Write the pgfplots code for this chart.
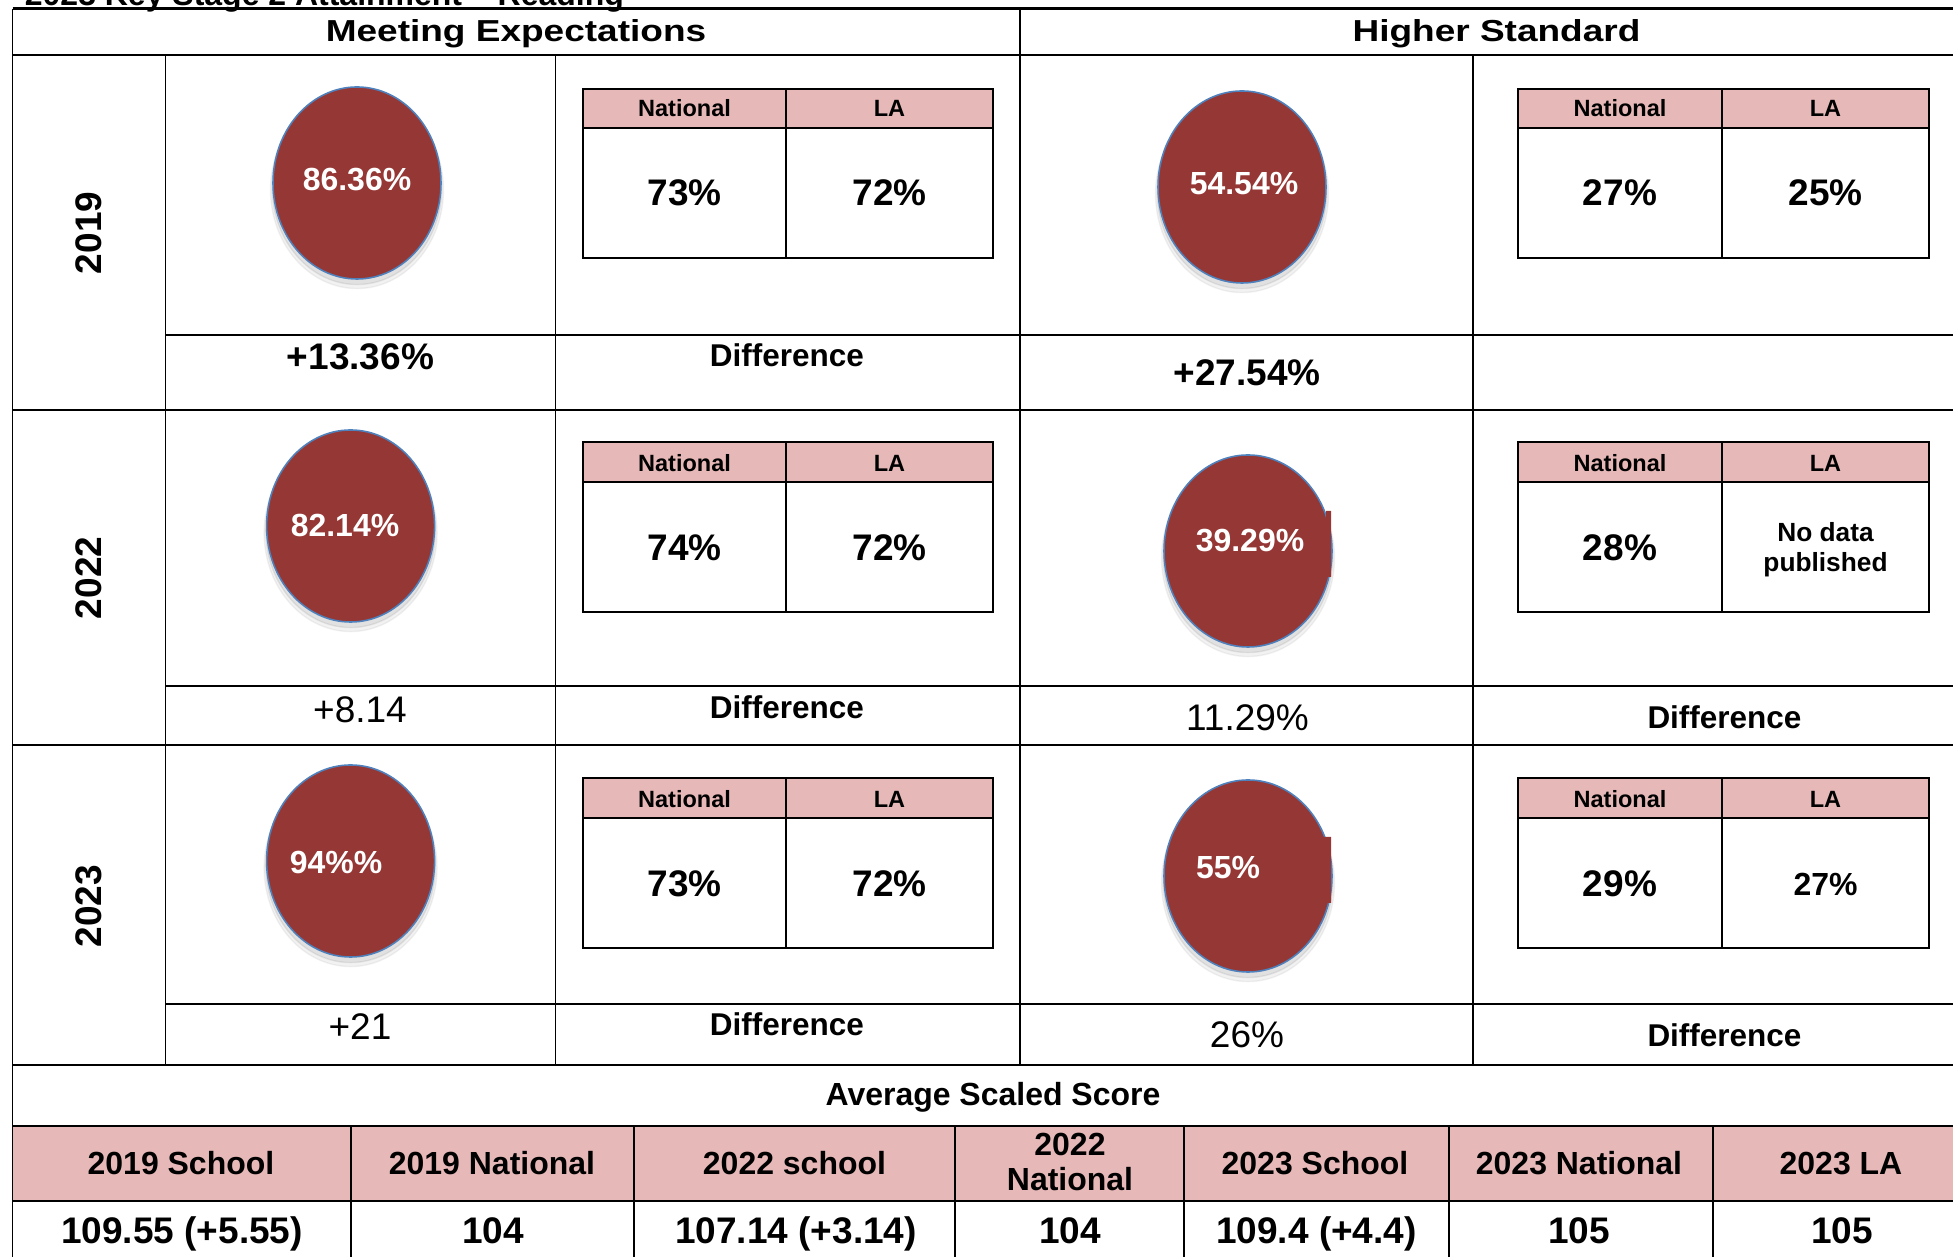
\documentclass[border=0pt]{standalone}
\usepackage{pgfplots}
\pgfplotsset{compat=1.18}
\usepackage{fontspec}
\setmainfont{Liberation Sans}
\definecolor{circred}{RGB}{149,55,53}
\definecolor{circedge}{RGB}{79,129,189}
\definecolor{pinkhead}{RGB}{230,184,183}
\newcommand{\fA}{\fontsize{10.53pt}{12pt}\selectfont}% 37px
\newcommand{\fB}{\fontsize{9.1pt}{11pt}\selectfont}% 32px
\newcommand{\fD}{\fontsize{8.96pt}{11pt}\selectfont}% 31.5px
\newcommand{\fN}{\fontsize{6.69pt}{8pt}\selectfont}% 23.5px
\newcommand{\fP}{\fontsize{7.48pt}{8.54pt}\selectfont}% 26.3px
% mini table: x0 xm x1 y0 yh y1
\newcommand{\minitab}[6]{%
  \fill[pinkhead] (#1,#4) rectangle (#3,#5);
  \draw[line width=0.55pt] (#1,#4) rectangle (#3,#6);
  \draw[line width=0.55pt] (#1,#5) -- (#3,#5);
  \draw[line width=0.55pt] (#2,#4) -- (#2,#6);
}
\begin{document}
\begin{tikzpicture}
\begin{axis}[name=ax, width=195.3mm, height=125.7mm, scale only axis,
  xmin=0, xmax=1953, ymin=0, ymax=1257, y dir=reverse, hide axis, clip=false,
  clip marker paths=true]

% title (cut at top)
\node[anchor=base west, font=\bfseries\fB] at (12.5,5.5) {2023 Key Stage 2 Attainment – Reading};

% pink band of the bottom table
\fill[pinkhead] (12.5,1126) rectangle (1953,1201);

% main grid
\draw[line width=0.75pt] (12.5,8.7) -- (1953,8.7);
\draw[line width=0.75pt] (12.5,55) -- (1953,55);
\draw[line width=0.5pt] (165.6,335) -- (1953,335);
\draw[line width=0.5pt] (12.5,410) -- (1953,410);
\draw[line width=0.5pt] (165.6,686) -- (1953,686);
\draw[line width=0.5pt] (12.5,745) -- (1953,745);
\draw[line width=0.5pt] (165.6,1004) -- (1953,1004);
\draw[line width=0.75pt] (12.5,1065) -- (1953,1065);
\draw[line width=0.75pt] (12.5,1126) -- (1953,1126);
\draw[line width=0.75pt] (12.5,1201) -- (1953,1201);
\draw[line width=0.5pt] (12.5,8.7) -- (12.5,1257);
\draw[line width=0.5pt] (165.6,55) -- (165.6,1065);
\draw[line width=0.5pt] (555.5,55) -- (555.5,1065);
\draw[line width=0.5pt] (1020,8.7) -- (1020,1065);
\draw[line width=0.5pt] (1473,55) -- (1473,1065);
\draw[line width=0.45pt] (351,1126) -- (351,1257);
\draw[line width=0.45pt] (634,1126) -- (634,1257);
\draw[line width=0.45pt] (955,1126) -- (955,1257);
\draw[line width=0.45pt] (1184,1126) -- (1184,1257);
\draw[line width=0.45pt] (1449,1126) -- (1449,1257);
\draw[line width=0.45pt] (1713,1126) -- (1713,1257);

% mini tables
\minitab{583}{786}{993}{89}{128}{258}
\minitab{1518}{1722}{1929}{89}{128}{258}
\minitab{583}{786}{993}{442}{482}{612}
\minitab{1518}{1722}{1929}{442}{482}{612}
\minitab{583}{786}{993}{778}{818}{948}
\minitab{1518}{1722}{1929}{778}{818}{948}

% circles: soft shadow then disc
\addplot[only marks, mark=*, mark size=24.6pt,
  mark options={yscale=1.14, fill=black, draw=none, opacity=0.05}]
  coordinates {(357,190) (1242,194) (350.6,533) (1248,558) (350.6,868) (1248,883)};
\addplot[only marks, mark=*, mark size=24.1pt,
  mark options={yscale=1.14, fill=black, draw=none, opacity=0.07}]
  coordinates {(357,188) (1242,192) (350.6,531) (1248,556) (350.6,866) (1248,881)};
\addplot[only marks, mark=*, mark size=23.9pt,
  mark options={yscale=1.143, fill=circred, draw=circedge, line width=0.45pt}]
  coordinates {(357,183) (1242,187) (350.6,526) (1248,551) (350.6,861) (1248,876)};
% small flat notches on two discs
\addplot[fill=circred, draw=none] coordinates {(1326,511) (1331,511) (1331,577) (1326,577) (1326,511)};
\addplot[fill=circred, draw=none] coordinates {(1324,837) (1331,837) (1331,903) (1324,903) (1324,837)};

% headings
\node[anchor=base, yscale=0.82, font=\bfseries\fA] at (516,41.5) {Meeting Expectations};
\node[anchor=base, yscale=0.82, font=\bfseries\fA] at (1496.5,41.5) {Higher Standard};

% years
\node[rotate=90, font=\bfseries\fA] at (89,233) {2019};
\node[rotate=90, font=\bfseries\fA] at (89,578) {2022};
\node[rotate=90, font=\bfseries\fA] at (89,906) {2023};

% disc labels
\node[text=white, font=\bfseries\fB] at (357,180) {86.36\%};
\node[text=white, font=\bfseries\fB] at (1244,184) {54.54\%};
\node[text=white, font=\bfseries\fB] at (345,526) {82.14\%};
\node[text=white, font=\bfseries\fB] at (1250,541) {39.29\%};
\node[text=white, font=\bfseries\fB] at (336,862) {94\%\%};
\node[text=white, font=\bfseries\fB] at (1228,868) {55\%};

% mini table headers
\node[font=\bfseries\fN] at (684.5,108.5) {National};
\node[font=\bfseries\fN] at (889.5,108.5) {LA};
\node[font=\bfseries\fN] at (1620,108.5) {National};
\node[font=\bfseries\fN] at (1825.5,108.5) {LA};
\node[font=\bfseries\fN] at (684.5,463) {National};
\node[font=\bfseries\fN] at (889.5,463) {LA};
\node[font=\bfseries\fN] at (1620,463) {National};
\node[font=\bfseries\fN] at (1825.5,463) {LA};
\node[font=\bfseries\fN] at (684.5,799) {National};
\node[font=\bfseries\fN] at (889.5,799) {LA};
\node[font=\bfseries\fN] at (1620,799) {National};
\node[font=\bfseries\fN] at (1825.5,799) {LA};

% mini table values
\node[font=\bfseries\fA] at (684.5,193) {73\%};
\node[font=\bfseries\fA] at (889.5,193) {72\%};
\node[font=\bfseries\fA] at (1620,193) {27\%};
\node[font=\bfseries\fA] at (1825.5,193) {25\%};
\node[font=\bfseries\fA] at (684.5,548) {74\%};
\node[font=\bfseries\fA] at (889.5,548) {72\%};
\node[font=\bfseries\fA] at (1620,548) {28\%};
\node[font=\bfseries\fP, align=center] at (1825.5,550) {No data\\published};
\node[font=\bfseries\fA] at (684.5,884) {73\%};
\node[font=\bfseries\fA] at (889.5,884) {72\%};
\node[font=\bfseries\fA] at (1620,884) {29\%};
\node[font=\bfseries\fB] at (1825.5,884) {27\%};

% difference rows
\node[font=\bfseries\fA] at (360.5,357) {+13.36\%};
\node[font=\bfseries\fD] at (787,355) {Difference};
\node[font=\bfseries\fA] at (1247,372.5) {+27.54\%};
\node[font=\fA] at (360,710) {+8.14};
\node[font=\bfseries\fD] at (787,707) {Difference};
\node[font=\fA] at (1247.5,717.5) {11.29\%};
\node[font=\bfseries\fD] at (1724.5,717) {Difference};
\node[font=\fA] at (360,1027) {+21};
\node[font=\bfseries\fD] at (787,1024) {Difference};
\node[font=\fA] at (1247,1035) {26\%};
\node[font=\bfseries\fD] at (1724.5,1035) {Difference};

% average scaled score
\node[anchor=base, font=\bfseries\fB] at (993,1106) {Average Scaled Score};
\node[anchor=base, font=\bfseries\fB] at (181,1175) {2019 School};
\node[anchor=base, font=\bfseries\fB] at (492,1175) {2019 National};
\node[anchor=base, font=\bfseries\fB] at (794.5,1175) {2022 school};
\node[anchor=base, font=\bfseries\fB] at (1070,1156) {2022};
\node[anchor=base, font=\bfseries\fB] at (1070,1191) {National};
\node[anchor=base, font=\bfseries\fB] at (1315,1175) {2023 School};
\node[anchor=base, font=\bfseries\fB] at (1579,1175) {2023 National};
\node[anchor=base, font=\bfseries\fB] at (1841,1175) {2023 LA};
\node[anchor=base, font=\bfseries\fA] at (182,1244) {109.55 (+5.55)};
\node[anchor=base, font=\bfseries\fA] at (493,1244) {104};
\node[anchor=base, font=\bfseries\fA] at (796,1244) {107.14 (+3.14)};
\node[anchor=base, font=\bfseries\fA] at (1070,1244) {104};
\node[anchor=base, font=\bfseries\fA] at (1316.5,1244) {109.4 (+4.4)};
\node[anchor=base, font=\bfseries\fA] at (1579,1244) {105};
\node[anchor=base, font=\bfseries\fA] at (1842,1244) {105};
\end{axis}
\pgfresetboundingbox
\path[use as bounding box] (ax.south west) rectangle (ax.north east);
\end{tikzpicture}
\end{document}
